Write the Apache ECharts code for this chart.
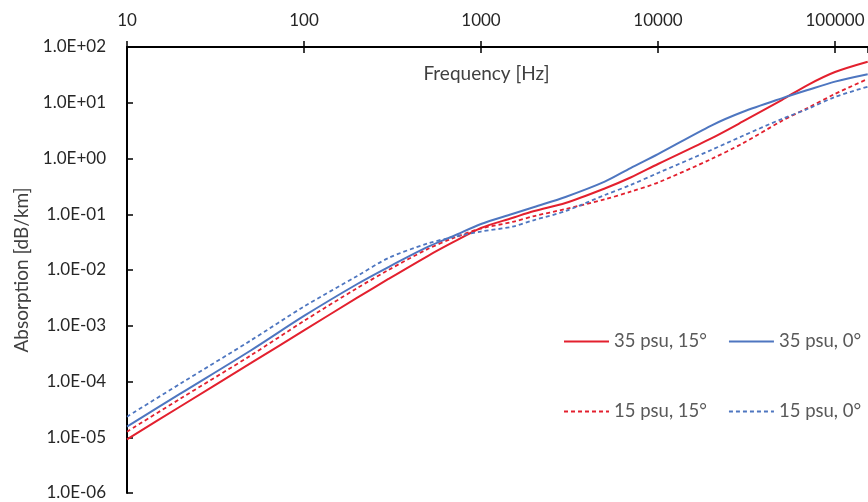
<!DOCTYPE html>
<html>
<head>
<meta charset="utf-8">
<script src="https://cdn.jsdelivr.net/npm/echarts@6/dist/echarts.min.js"></script>
<style>
  html, body { margin: 0; padding: 0; background: #fff; }
  #chart { width: 868px; height: 502px; }
</style>
</head>
<body>
<div id="chart"></div>
<script>
// frequency in Hz, absorption in dB/km
const frequencies = [10, 20, 50, 100, 200, 300, 500, 700, 1000, 1500, 2000, 3000, 5000, 7000, 10000, 20000, 30000, 50000, 70000, 100000, 153000];

const psu35deg15 = [9.19e-6, 3.56e-5, 2.13e-4, 8.25e-4, 3.19e-3, 6.90e-3, 1.78e-2, 3.18e-2, 5.67e-2, 8.56e-2, 0.114, 0.159, 0.290, 0.456, 0.797, 2.30, 4.57, 11.2, 20.8, 35.6, 54.5];
const psu35deg0 = [1.55e-5, 6.04e-5, 3.60e-4, 1.50e-3, 5.61e-3, 1.13e-2, 2.59e-2, 4.07e-2, 6.69e-2, 0.101, 0.135, 0.204, 0.384, 0.675, 1.20, 3.90, 6.82, 12.0, 16.9, 23.9, 32.4];
const psu15deg15 = [1.26e-5, 4.91e-5, 2.93e-4, 1.22e-3, 4.75e-3, 1.0e-2, 2.38e-2, 3.75e-2, 5.55e-2, 7.26e-2, 9.30e-2, 0.124, 0.185, 0.254, 0.371, 0.979, 1.86, 4.71, 8.05, 14.4, 26.7];
const psu15deg0 = [2.34e-5, 9.13e-5, 5.44e-4, 2.21e-3, 7.81e-3, 1.64e-2, 2.99e-2, 3.91e-2, 4.90e-2, 5.98e-2, 7.88e-2, 0.114, 0.221, 0.335, 0.550, 1.42, 2.53, 5.11, 7.73, 12.7, 19.4];

const seriesNames = ['35 psu, 15°', '35 psu, 0°', '15 psu, 15°', '15 psu, 0°'];

const RED = '#E3202E';
const BLUE = '#4E76C0';
const FONT = 'Lato';
const X_MAX = 153600; // right edge of the cropped plot

function pairs(vals) {
  return frequencies.map((f, i) => [f, vals[i]]);
}

function sciLabel(v) {
  const e = Math.round(Math.log10(v));
  return '1.0E' + (e < 0 ? '-' : '+') + String(Math.abs(e)).padStart(2, '0');
}

function makeLine(name, vals, color, dashed) {
  return {
    name: name,
    type: 'line',
    xAxisIndex: 0,
    yAxisIndex: 0,
    symbol: 'none',
    smooth: 0.3,
    lineStyle: { color: color, width: dashed ? 1.8 : 2, type: dashed ? [4, 3] : 'solid' },
    itemStyle: { color: color },
    data: pairs(vals)
  };
}

const chart = echarts.init(document.getElementById('chart'));

const legendBase = {
  left: 563, padding: 0, itemWidth: 45, itemHeight: 14, itemGap: 21,
  itemStyle: { opacity: 0 },
  textStyle: { color: '#595959', fontSize: 18.5, fontFamily: FONT }
};

const option = {
  backgroundColor: '#fff',
  animation: false,
  grid: { left: 127, top: 47, right: 0, height: 446 },
  legend: [
    Object.assign({ data: [seriesNames[0], seriesNames[1]], top: 332 }, legendBase),
    Object.assign({ data: [seriesNames[2], seriesNames[3]], top: 402 }, legendBase)
  ],
  xAxis: [
    {
      type: 'log',
      logBase: 10,
      min: 10,
      max: X_MAX,
      position: 'top',
      splitNumber: 5,
      name: 'Frequency [Hz]',
      nameLocation: 'middle',
      nameGap: -36,
      nameTextStyle: { color: '#404040', fontSize: 19, fontFamily: FONT, padding: [0, 22, 0, 0] },
      axisLine: { show: true, lineStyle: { color: '#000', width: 2 } },
      axisTick: { show: true, inside: false, length: 6, lineStyle: { color: '#000', width: 1.5 } },
      axisLabel: { color: '#262626', fontSize: 17, fontFamily: FONT, margin: 18,
        showMinLabel: true, showMaxLabel: false, formatter: v => String(Math.round(v)) },
      splitLine: { show: false }
    },
    {
      type: 'log',
      logBase: 10,
      min: 10,
      max: X_MAX,
      position: 'top',
      splitNumber: 5,
      axisLine: { show: false },
      axisTick: { show: true, inside: true, length: 6, lineStyle: { color: '#000', width: 1.5 } },
      axisLabel: { show: false },
      splitLine: { show: false }
    }
  ],
  yAxis: {
    type: 'log',
    logBase: 10,
    min: 1e-6,
    max: 100,
    splitNumber: 8,
    name: 'Absorption [dB/km]',
    nameLocation: 'middle',
    nameGap: 96,
    nameTextStyle: { color: '#404040', fontSize: 19, fontFamily: FONT },
    axisLine: { show: true, lineStyle: { color: '#000', width: 2 } },
    axisTick: { show: true, inside: true, length: 6, lineStyle: { color: '#000', width: 1.5 } },
    axisLabel: { color: '#262626', fontSize: 17, fontFamily: FONT, margin: 21, formatter: sciLabel },
    splitLine: { show: false }
  },
  series: [
    makeLine(seriesNames[0], psu35deg15, RED, false),
    makeLine(seriesNames[1], psu35deg0, BLUE, false),
    makeLine(seriesNames[2], psu15deg15, RED, true),
    makeLine(seriesNames[3], psu15deg0, BLUE, true)
  ]
};

chart.setOption(option);
</script>
</body>
</html>
